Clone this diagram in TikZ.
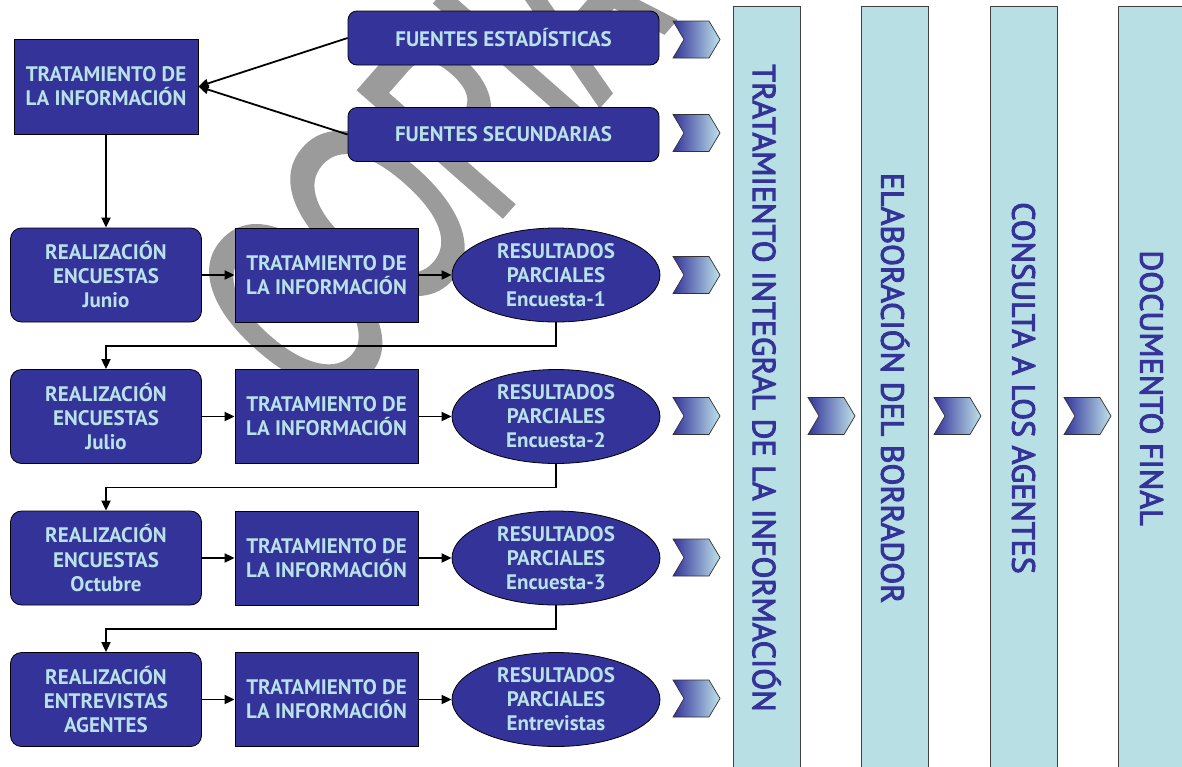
\documentclass[tikz,border=0pt]{standalone}
\usepackage{fontspec}
\usepackage{graphicx}
\setmainfont{PT Sans}
\newfontfamily\wmfont[FakeBold=2]{Liberation Sans}
\newfontfamily\barfont[FakeBold=3]{PT Sans}
\usetikzlibrary{arrows.meta,shapes.geometric}
\definecolor{boxblue}{RGB}{51,51,153}
\definecolor{boxtxt}{RGB}{185,226,232}
\definecolor{barfill}{RGB}{184,223,227}
\definecolor{wmgray}{RGB}{155,155,155}
\definecolor{chevlight}{RGB}{190,226,234}
\tikzset{
  blk/.style={draw=black, line width=0.8pt, fill=boxblue, text=boxtxt,
     font=\fontsize{21}{24}\selectfont\bfseries, align=center, inner sep=0pt},
  sqbox/.style={blk, rectangle, minimum width=184pt, minimum height=95pt},
  rbox/.style={blk, rectangle, rounded corners=11pt, minimum width=191pt, minimum height=94pt},
  srcbox/.style={blk, rectangle, rounded corners=9pt, minimum width=311pt, minimum height=54pt},
  resell/.style={blk, ellipse, minimum width=208pt, minimum height=94pt},
  bar/.style={draw=black!75, line width=0.8pt, fill=barfill, text=boxblue, rotate=-90,
     minimum width=764pt, minimum height=67pt, inner sep=0pt, font=\barfont\fontsize{32}{32}\selectfont},
  arr/.style={line width=1.8pt, -{Triangle[length=10pt,width=9pt]}},
  chevron/.pic={\shadedraw[left color=boxblue, right color=chevlight, draw=black!80, line width=0.7pt]
     (-23.5,-18.5) -- (12.5,-18.5) -- (23.5,0) -- (12.5,18.5) -- (-23.5,18.5) -- (-12.5,0) -- cycle;}
}
\begin{document}
\begin{tikzpicture}[x=1pt,y=-1pt]
\useasboundingbox (0,0) rectangle (1182,766);
\fill[white] (0,0) rectangle (1182,766);
% watermark
\node[text=wmgray, font=\wmfont\fontsize{275}{275}\selectfont, anchor=base, rotate=48.7, inner sep=0pt]
  (wm) at (499,219) {\scalebox{0.62}[1]{COPIA}};
% top part
\node[sqbox] (top) at (106,86.5) {TRATAMIENTO DE\\LA INFORMACIÓN};
\node[srcbox] (fe) at (503.5,38) {FUENTES ESTADÍSTICAS};
\node[srcbox] (fs) at (503.5,134.5) {FUENTES SECUNDARIAS};
% rows
\foreach \i/\y/\l/\m/\n in {1/275/ENCUESTAS/Junio/Encuesta-1,
                            2/416.5/ENCUESTAS/Julio/Encuesta-2,
                            3/558/ENCUESTAS/Octubre/Encuesta-3,
                            4/699.5/ENTREVISTAS/AGENTES/Entrevistas}{
  \node[rbox] (r\i) at (106,\y) {REALIZACIÓN\\\l\\\m};
  \node[sqbox, minimum width=183pt, minimum height=94pt] (t\i) at (326.5,\y) {TRATAMIENTO DE\\LA INFORMACIÓN};
  \node[resell] (e\i) at (556,\y) {RESULTADOS\\PARCIALES\\\n};
  \draw[arr] (r\i.east) -- (t\i.west);
  \draw[arr] (t\i.east) -- (e\i.west);
}
% connectors
\draw[arr] (fe.west) -- (top.east);
\draw[arr] (fs.west) -- (top.east);
\draw[arr] (top.south) -- (r1.north);
\foreach \i/\j in {1/2,2/3,3/4}{
  \draw[arr] (e\i.south) -- ++(0,23.5) -| (r\j.north);
}
% bars
\node[bar] (b1) at (766.5,388) {TRATAMIENTO INTEGRAL DE LA INFORMACIÓN};
\node[bar] (b2) at (895,388) {ELABORACIÓN DEL BORRADOR};
\node[bar] (b3) at (1023.5,388) {CONSULTA A LOS AGENTES};
\node[bar] (b4) at (1151.5,388) {DOCUMENTO FINAL};
% chevrons
\foreach \y in {39.5,133,275,416,557.5,698.5}{
  \pic at (696.5,\y) {chevron};
}
\foreach \x in {831.5,957.5,1087.5}{
  \pic at (\x,416) {chevron};
}
\end{tikzpicture}
\end{document}
